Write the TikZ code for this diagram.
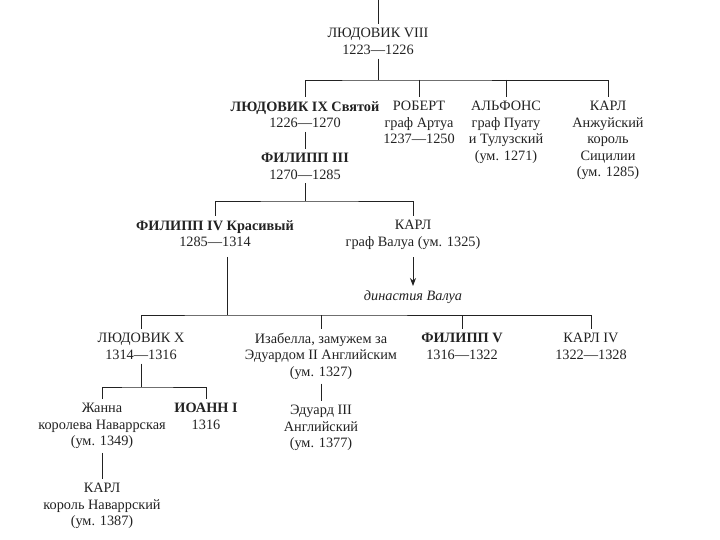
\documentclass[tikz,border=0pt]{standalone}
\usepackage{fontspec}
\setmainfont{Liberation Serif}
\usepackage{tikz}
\usetikzlibrary{arrows.meta}
\definecolor{ink}{HTML}{222222}

\begin{document}
\begin{tikzpicture}[x=1pt, y=-1pt,
  pers/.style={align=center, anchor=north, inner sep=4pt, text=ink,
               font=\fontsize{14.3}{16.5}\selectfont},
  lin/.style={draw=ink, line width=0.8pt},
]
  \useasboundingbox[fill=white] (0,0) rectangle (720,540);
  \node[pers] (l8) at (378,24) {ЛЮДОВИК VIII\\1223—1226};
  \node[pers] (l9) at (305,97) {\textbf{ЛЮДОВИК IX Святой}\\1226—1270};
  \node[pers] (rob) at (419,97) {РОБЕРТ\\граф Артуа\\1237—1250};
  \node[pers] (alf) at (506,97) {АЛЬФОНС\\граф Пуату\\и Тулузский\\(ум. 1271)};
  \node[pers] (karl1) at (608,97) {КАРЛ\\Анжуйский\\король\\Сицилии\\(ум. 1285)};
  \node[pers] (f3) at (305,149) {\textbf{ФИЛИПП III}\\1270—1285};
  \node[pers] (f4) at (215,216) {\textbf{ФИЛИПП IV Красивый}\\1285—1314};
  \node[pers] (karl2) at (413,216) {КАРЛ\\граф Валуа (ум. 1325)};
  \node[pers] (valois) at (413,286) {\itshape династия Валуа};
  \node[pers] (l10) at (141,329) {ЛЮДОВИК X\\1314—1316};
  \node[pers] (isa) at (321,329) {Изабелла, замужем за\\Эдуардом II Английским\\(ум. 1327)};
  \node[pers] (f5) at (462,329) {\textbf{ФИЛИПП V}\\1316—1322};
  \node[pers] (k4) at (591,329) {КАРЛ IV\\1322—1328};
  \node[pers] (jeanne) at (102,399) {Жанна\\королева Наваррская\\(ум. 1349)};
  \node[pers] (jean1) at (206,399) {\textbf{ИОАНН I}\\1316};
  \node[pers] (ed3) at (321,401) {Эдуард III\\Английский\\(ум. 1377)};
  \node[pers] (karl3) at (102,479) {КАРЛ\\король Наваррский\\(ум. 1387)};

  % junctions of the tree
  \coordinate (top) at (378,0);
  \coordinate (j1) at (378,80);
  \coordinate (j2) at (305,201);
  \coordinate (j3) at (227,315);
  \coordinate (j4) at (141,387);

  \draw[lin] (top) -- (l8);
  \draw[lin] (l8) -- (j1);
  \draw[lin] (l9) |- (j1) -| (karl1);
  \draw[lin] (j1 -| rob) -- (rob);
  \draw[lin] (j1 -| alf) -- (alf);
  \draw[lin] (l9) -- (f3);
  \draw[lin] (f3) -- (j2);
  \draw[lin] (f4) |- (j2) -| (karl2);
  \draw[lin, -{Stealth[length=8pt,width=6pt]}, shorten <=4pt] (karl2) -- (valois);
  \draw[lin, shorten <=6pt] (f4.south -| j3) -- (j3);
  \draw[lin] (l10) |- (j3) -| (k4);
  \draw[lin] (j3 -| isa) -- (isa);
  \draw[lin] (j3 -| f5) -- (f5);
  \draw[lin] (l10) -- (j4);
  \draw[lin] (jeanne) |- (j4) -| (jean1);
  \draw[lin] (jeanne) -- (karl3);
  \draw[lin] (isa) -- (ed3);
\end{tikzpicture}
\end{document}
